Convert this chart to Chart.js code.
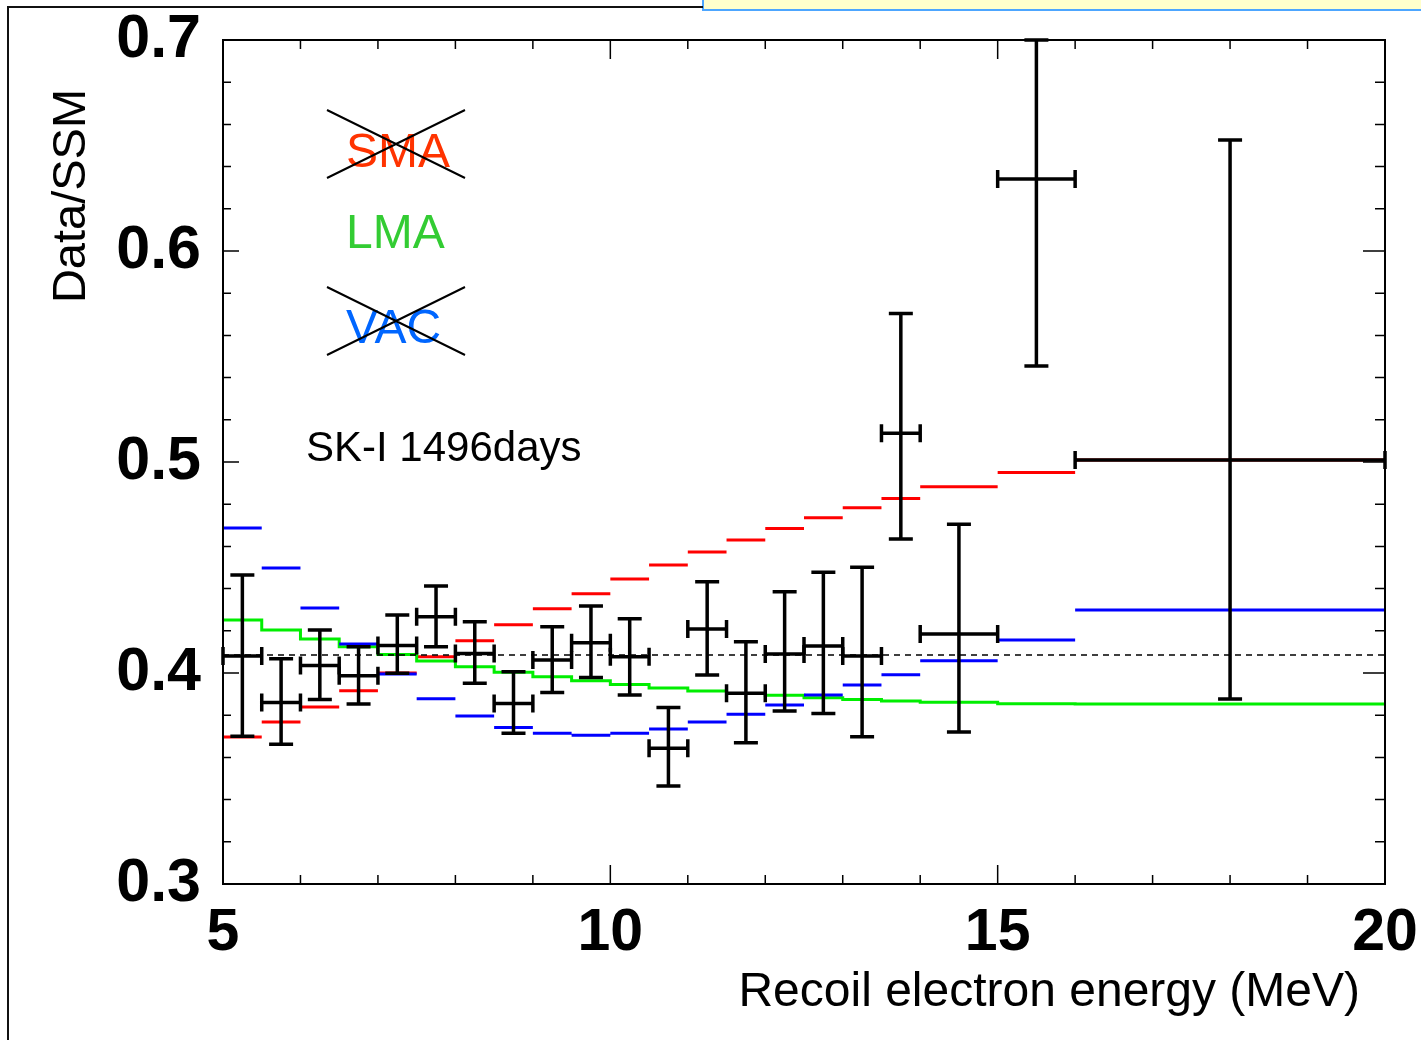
<!DOCTYPE html>
<html>
<head>
<meta charset="utf-8">
<title>SK-I 1496 days - Data/SSM vs recoil electron energy</title>
<script src="https://cdn.jsdelivr.net/npm/chart.js@4.4.1/dist/chart.umd.min.js"></script>
<style>
    html, body { margin: 0; padding: 0; background: #fff; }
    #chart { display: block; }
</style>
</head>
<body>
<canvas id="chart" width="1421" height="1040"></canvas>
<script>
// energy bins (MeV), last three are wider
const binEdges = [5, 5.5, 6, 6.5, 7, 7.5, 8, 8.5, 9, 9.5, 10, 10.5, 11, 11.5, 12, 12.5, 13, 13.5, 14, 15, 16, 20];
const binCenters = [5.25, 5.75, 6.25, 6.75, 7.25, 7.75, 8.25, 8.75, 9.25, 9.75, 10.25, 10.75, 11.25, 11.75, 12.25, 12.75, 13.25, 13.75, 14.5, 15.5, 18];

// SK-I measured Data/SSM and error bar ends
const dataRatio = [0.408, 0.386, 0.4035, 0.3987, 0.413, 0.4267, 0.4093, 0.3856, 0.4062, 0.4143, 0.4077, 0.3643, 0.4209, 0.3904, 0.409, 0.4128, 0.408, 0.5136, 0.4185, 0.6341, 0.5009];
const errHigh = [0.4464, 0.4068, 0.4204, 0.4125, 0.4275, 0.4412, 0.4243, 0.4006, 0.4219, 0.4317, 0.4257, 0.3837, 0.4432, 0.4148, 0.4385, 0.4477, 0.4501, 0.5704, 0.4705, 0.70, 0.6526];
const errLow = [0.370, 0.3662, 0.3875, 0.3853, 0.3999, 0.4125, 0.3951, 0.3714, 0.3907, 0.3979, 0.3896, 0.3464, 0.399, 0.3669, 0.382, 0.3808, 0.3698, 0.4635, 0.372, 0.5455, 0.3877];

// oscillation model expectations per bin
const smaModel = [0.3697, 0.3768, 0.3839, 0.3916, 0.4000, 0.4077, 0.4153, 0.4229, 0.4305, 0.4376, 0.4445, 0.4512, 0.4573, 0.4630, 0.4685, 0.4736, 0.4783, 0.4827, 0.4883, 0.4950, 0.5010];
const lmaModel = [0.4251, 0.4204, 0.4161, 0.4125, 0.4088, 0.4057, 0.4030, 0.4003, 0.3982, 0.3963, 0.3946, 0.3929, 0.3915, 0.3903, 0.3894, 0.3883, 0.3875, 0.3867, 0.3861, 0.3854, 0.3853];
const vacModel = [0.4687, 0.4498, 0.4308, 0.4137, 0.3995, 0.3878, 0.3796, 0.3742, 0.3714, 0.3705, 0.3714, 0.3735, 0.3768, 0.3804, 0.3848, 0.3896, 0.3943, 0.3992, 0.4058, 0.4156, 0.4299];

// flat (no distortion) average
const flatRatio = 0.4085;

const xTickLabels = [5, 10, 15, 20];
const yTickLabels = [0.3, 0.4, 0.5, 0.6, 0.7];

const FONT = "'Liberation Sans', Arial, Helvetica, sans-serif";

// separate horizontal pieces, one per bin (gaps between them)
function binSegments(values) {
    const pts = [];
    values.forEach((v, i) => {
        pts.push({ x: binEdges[i], y: v });
        pts.push({ x: binEdges[i + 1], y: v });
        pts.push({ x: binEdges[i + 1], y: null });
    });
    return pts;
}

// connected histogram (step line)
function binSteps(values) {
    const pts = values.map((v, i) => ({ x: binEdges[i], y: v }));
    pts.push({ x: binEdges[binEdges.length - 1], y: values[values.length - 1] });
    return pts;
}

const pageFrame = {
    id: 'pageFrame',
    beforeDraw(chart) {
        const { ctx, width, height } = chart;
        ctx.save();
        ctx.fillStyle = '#fff';
        ctx.fillRect(0, 0, width, height);
        // bits of the surrounding slide
        ctx.fillStyle = '#ffffcc';
        ctx.fillRect(703, 0, width - 703, 10);
        ctx.strokeStyle = '#4da6ff';
        ctx.lineWidth = 2;
        ctx.beginPath();
        ctx.moveTo(703, 0); ctx.lineTo(703, 10); ctx.lineTo(width, 10);
        ctx.stroke();
        ctx.strokeStyle = '#111';
        ctx.lineWidth = 2;
        ctx.beginPath();
        ctx.moveTo(703, 7); ctx.lineTo(8, 7); ctx.lineTo(8, height);
        ctx.stroke();
        ctx.restore();
    }
};

const errorBars = {
    id: 'errorBars',
    afterDatasetsDraw(chart) {
        const { ctx, scales: { x, y } } = chart;
        ctx.save();
        ctx.strokeStyle = '#000';
        ctx.lineWidth = 3.5;
        dataRatio.forEach((v, i) => {
            const px = x.getPixelForValue(binCenters[i]);
            const py = y.getPixelForValue(v);
            const x0 = x.getPixelForValue(binEdges[i]);
            const x1 = x.getPixelForValue(binEdges[i + 1]);
            const yt = y.getPixelForValue(errHigh[i]);
            const yb = y.getPixelForValue(errLow[i]);
            ctx.beginPath();
            ctx.moveTo(x0, py); ctx.lineTo(x1, py);
            ctx.moveTo(px, yt); ctx.lineTo(px, yb);
            ctx.moveTo(px - 12, yt); ctx.lineTo(px + 12, yt);
            ctx.moveTo(px - 12, yb); ctx.lineTo(px + 12, yb);
            ctx.moveTo(x0, py - 9); ctx.lineTo(x0, py + 9);
            ctx.moveTo(x1, py - 9); ctx.lineTo(x1, py + 9);
            ctx.stroke();
        });
        ctx.restore();
    }
};

const frameTicks = {
    id: 'frameTicks',
    afterDraw(chart) {
        const { ctx, chartArea: a, scales: { x, y } } = chart;
        ctx.save();
        ctx.strokeStyle = '#000';
        ctx.lineWidth = 2;
        ctx.strokeRect(a.left, a.top, a.right - a.left, a.bottom - a.top);
        ctx.lineWidth = 1.5;
        ctx.beginPath();
        for (let e = 6; e < 20; e++) {
            const px = x.getPixelForValue(e);
            const major = e % 5 === 0;
            const len = major ? 19 : 9;
            ctx.moveTo(px, a.bottom); ctx.lineTo(px, a.bottom - len);
            ctx.moveTo(px, a.top); ctx.lineTo(px, a.top + len);
        }
        for (let k = 1; k < 20; k++) {
            const py = y.getPixelForValue(0.3 + k * 0.02);
            const major = k % 5 === 0;
            ctx.moveTo(a.left, py); ctx.lineTo(a.left + (major ? 16 : 8), py);
            ctx.moveTo(a.right, py); ctx.lineTo(a.right - (major ? 22 : 10), py);
        }
        ctx.stroke();
        ctx.restore();
    }
};

const labels = {
    id: 'labels',
    afterDraw(chart) {
        const { ctx } = chart;
        ctx.save();
        ctx.fillStyle = '#000';
        ctx.font = `48px ${FONT}`;
        ctx.textAlign = 'right';
        ctx.textBaseline = 'alphabetic';
        ctx.fillText('Recoil electron energy (MeV)', 1360, 1006);

        ctx.save();
        ctx.translate(85, 196);
        ctx.rotate(-Math.PI / 2);
        ctx.textAlign = 'center';
        ctx.font = `47px ${FONT}`;
        ctx.fillText('Data/SSM', 0, 0);
        ctx.restore();

        ctx.textAlign = 'left';
        ctx.font = `48px ${FONT}`;
        ctx.fillStyle = '#ff3300';
        ctx.fillText('SMA', 346, 167);
        ctx.fillStyle = '#33cc33';
        ctx.fillText('LMA', 346, 248);
        ctx.fillStyle = '#0066ff';
        ctx.fillText('VAC', 346, 343);

        // excluded solutions are crossed out
        ctx.strokeStyle = '#000';
        ctx.lineWidth = 2;
        ctx.beginPath();
        ctx.moveTo(327, 110); ctx.lineTo(465, 178);
        ctx.moveTo(327, 178); ctx.lineTo(465, 110);
        ctx.moveTo(327, 287); ctx.lineTo(465, 355);
        ctx.moveTo(327, 355); ctx.lineTo(465, 287);
        ctx.stroke();

        ctx.fillStyle = '#000';
        ctx.font = `42px ${FONT}`;
        ctx.fillText('SK-I 1496days', 306, 461);
        ctx.restore();
    }
};

const lineStyle = (color, width) => ({
    borderColor: color,
    borderWidth: width,
    pointRadius: 0,
    fill: false,
    tension: 0,
    spanGaps: false
});

new Chart(document.getElementById('chart'), {
    type: 'line',
    data: {
        datasets: [
            { label: 'Flat', data: [{ x: 5, y: flatRatio }, { x: 20, y: flatRatio }], ...lineStyle('#000', 1.6), borderDash: [6, 5] },
            { label: 'VAC', data: binSegments(vacModel), ...lineStyle('#0000ff', 3) },
            { label: 'LMA', data: binSteps(lmaModel), ...lineStyle('#00ee00', 3), stepped: true },
            { label: 'SMA', data: binSegments(smaModel), ...lineStyle('#ff0000', 3) }
        ]
    },
    options: {
        responsive: false,
        animation: false,
        events: [],
        layout: { padding: { top: 40, right: 36, left: 0, bottom: 0 } },
        plugins: { legend: { display: false }, tooltip: { enabled: false } },
        scales: {
            x: {
                type: 'linear',
                min: 5,
                max: 20,
                afterFit: s => { s.height = 156; s.paddingLeft = 0; s.paddingRight = 0; },
                afterBuildTicks: s => { s.ticks = xTickLabels.map(v => ({ value: v })); },
                grid: { display: false, drawTicks: false },
                border: { display: false },
                ticks: {
                    padding: 14,
                    color: '#000',
                    maxRotation: 0,
                    font: { family: FONT, size: 59, weight: 'bold' },
                    callback: v => String(v)
                }
            },
            y: {
                type: 'linear',
                min: 0.3,
                max: 0.7,
                afterFit: s => { s.width = 223; s.paddingTop = 0; s.paddingBottom = 0; },
                afterBuildTicks: s => { s.ticks = yTickLabels.map(v => ({ value: v })); },
                grid: { display: false, drawTicks: false },
                border: { display: false },
                ticks: {
                    padding: 22,
                    color: '#000',
                    font: { family: FONT, size: 61, weight: 'bold' },
                    callback: v => v.toFixed(1)
                }
            }
        }
    },
    plugins: [pageFrame, errorBars, frameTicks, labels]
});
</script>
</body>
</html>
